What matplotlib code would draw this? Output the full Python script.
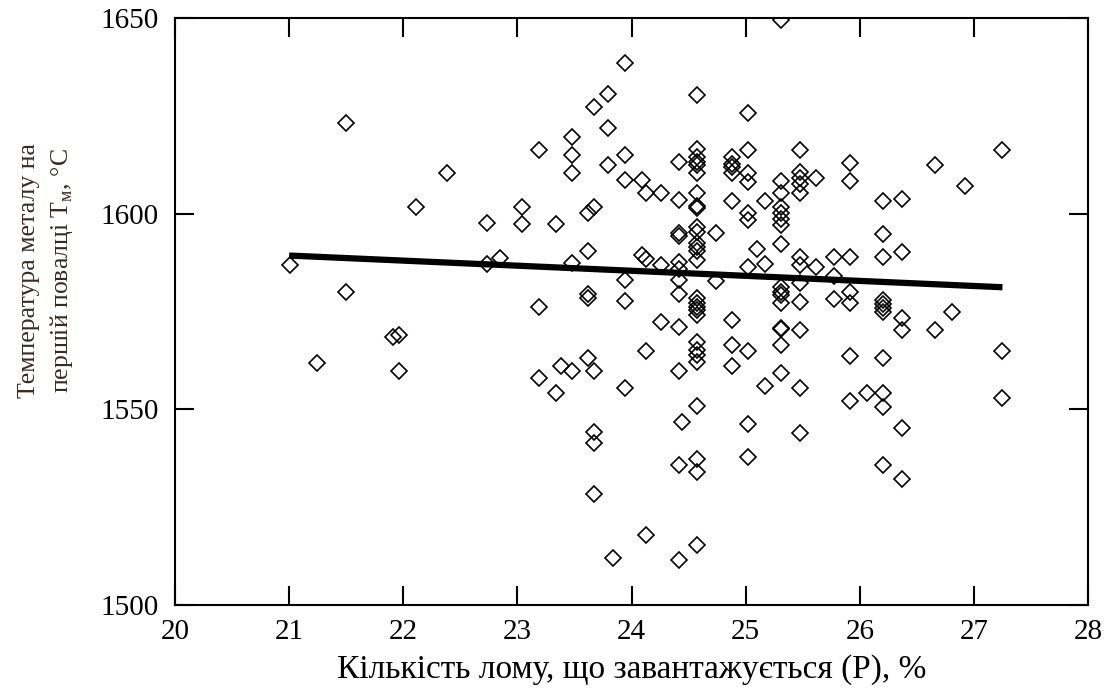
import numpy as np
import matplotlib
matplotlib.use('Agg')
import matplotlib.pyplot as plt

plt.rcParams['font.family'] = ['Liberation Serif', 'DejaVu Serif']
plt.rcParams['mathtext.fontset'] = 'custom'
plt.rcParams['mathtext.rm'] = 'Liberation Serif'

# scrap share (x) columns and the melt temperatures read at each of them
col_x = [21.01, 21.24, 21.50, 21.91, 21.96, 22.11, 22.38, 22.73, 22.85, 23.04,
         23.19, 23.34, 23.38, 23.48, 23.62, 23.67, 23.79, 23.84, 23.94, 24.09,
         24.13, 24.26, 24.42, 24.44, 24.57, 24.74, 24.88, 25.02, 25.10, 25.17,
         25.31, 25.48, 25.62, 25.77, 25.91, 26.06, 26.20, 26.37, 26.66, 26.81,
         26.92, 27.25]

col_temps = [
    [1586.9],
    [1561.8],
    [1623.2, 1580.0],
    [1568.6],
    [1569.0, 1559.9],
    [1601.8],
    [1610.5],
    [1597.5, 1587.2],
    [1588.6],
    [1601.8, 1597.4],
    [1616.3, 1576.2, 1557.9],
    [1597.4, 1554.1],
    [1561.2],
    [1619.5, 1615.0, 1610.5, 1587.5, 1559.9],
    [1600.1, 1590.4, 1579.6, 1578.4, 1563.0],
    [1627.2, 1601.8, 1559.9, 1544.3, 1541.5, 1528.3],
    [1630.5, 1622.0, 1612.4],
    [1512.1],
    [1638.4, 1615.0, 1608.5, 1583.0, 1577.8, 1555.4],
    [1608.5, 1589.4],
    [1605.2, 1588.5, 1565.0, 1517.9],
    [1605.2, 1586.9, 1572.3],
    [1613.1, 1603.4, 1595.0, 1594.4, 1587.7, 1585.8, 1583.0, 1579.4, 1571.1,
     1559.9, 1535.9, 1511.5],
    [1546.8],
    [1630.3, 1616.6, 1614.6, 1613.3, 1612.5, 1610.3, 1605.4, 1602.0, 1601.4,
     1596.5, 1595.3, 1592.4, 1591.6, 1590.4, 1588.2, 1578.4, 1577.1, 1576.2,
     1575.3, 1574.1, 1567.3, 1565.1, 1563.9, 1562.2, 1550.8, 1537.3, 1533.9,
     1515.3],
    [1595.0, 1582.7],
    [1614.6, 1612.7, 1611.9, 1610.3, 1603.3, 1572.9, 1566.4, 1561.2],
    [1625.8, 1616.3, 1610.4, 1608.2, 1600.3, 1598.3, 1586.4, 1564.9, 1546.2,
     1537.9],
    [1591.1],
    [1603.3, 1587.1, 1556.0],
    [1649.5, 1608.4, 1605.2, 1601.8, 1600.1, 1598.6, 1597.2, 1592.3, 1581.3,
     1580.0, 1579.2, 1577.2, 1570.9, 1570.5, 1566.4, 1559.2],
    [1616.3, 1610.7, 1609.0, 1607.7, 1605.2, 1589.0, 1586.9, 1582.2, 1577.4,
     1570.3, 1555.4, 1543.9],
    [1609.0, 1586.4],
    [1589.0, 1584.1, 1578.1],
    [1613.0, 1608.3, 1589.0, 1580.1, 1577.2, 1563.6, 1552.2],
    [1554.2],
    [1603.2, 1594.9, 1589.0, 1577.9, 1576.9, 1575.8, 1574.9, 1563.0, 1554.3,
     1550.7, 1535.9],
    [1603.7, 1590.3, 1573.3, 1570.3, 1545.2, 1532.1],
    [1612.4, 1570.3],
    [1574.9],
    [1607.1],
    [1616.3, 1565.0, 1552.8],
]

# regression line end points
fit_x = [21.0, 27.25]
fit_y = [1589.3, 1581.2]

x_ticks = [20, 21, 22, 23, 24, 25, 26, 27, 28]
y_ticks = [1500, 1550, 1600, 1650]

scrap = np.repeat(col_x, [len(t) for t in col_temps])
temp = np.concatenate(col_temps)

fig = plt.figure(figsize=(11.14, 6.93), dpi=100)
ax = fig.add_axes([0.1571, 0.127, 0.8196, 0.847])

ax.plot(scrap, temp, linestyle='none', marker='D', markersize=8.6,
        markerfacecolor='none', markeredgecolor='black', markeredgewidth=1.2)
ax.plot(fit_x, fit_y, color='black', linewidth=4.5, solid_capstyle='butt')

ax.set_xlim(20, 28)
ax.set_ylim(1500, 1650)
ax.set_xticks(x_ticks)
ax.set_yticks(y_ticks)

for s in ax.spines.values():
    s.set_linewidth(1.5)
ax.tick_params(direction='in', length=14, width=1.5, top=True, right=True,
               labelsize=21)
ax.tick_params(axis='x', pad=10)
ax.tick_params(axis='y', pad=12)

ax.set_xlabel('Кількість лому, що завантажується (Р), %', fontsize=24,
              labelpad=7)
ax.set_ylabel('Температура металу на\nпершій повалці Т$_{\\mathregular{м}}$, °С',
              fontsize=18.5, color='#3a2b20', linespacing=1.4)
ax.yaxis.set_label_coords(-0.11, 0.57)

fig.savefig('out.png', dpi=100)
